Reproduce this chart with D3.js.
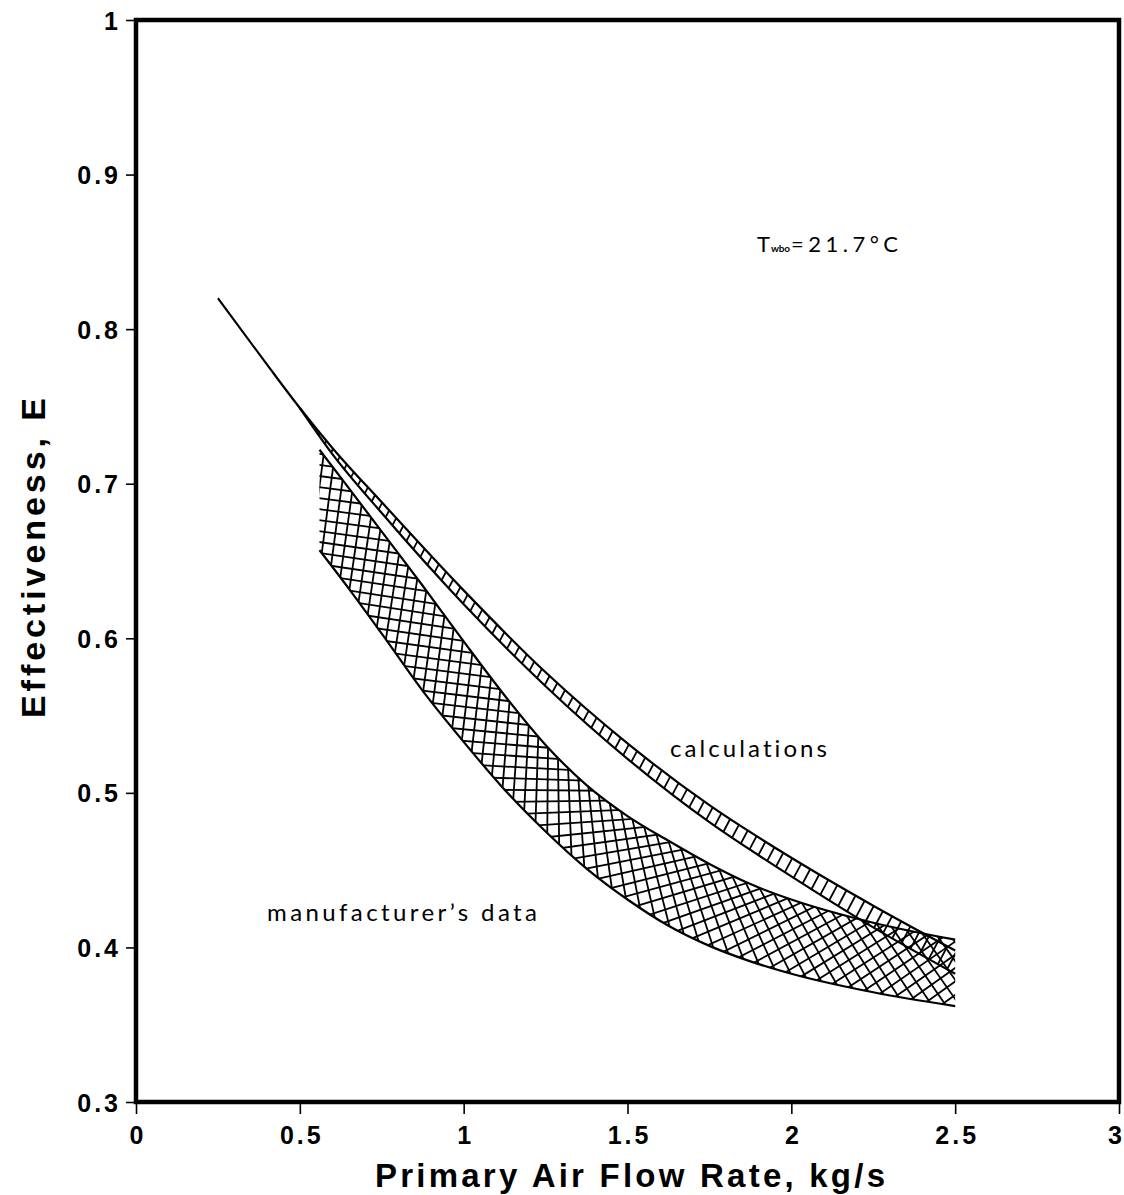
<!DOCTYPE html>
<html>
<head>
<meta charset="utf-8">
<script src="https://cdn.jsdelivr.net/npm/d3@7"></script>
<style>
  body { margin: 0; background: #fff; }
  svg { display: block; }
</style>
</head>
<body>
<div id="chart"></div>
<script>
// axis ticks
const xTicks = [0, 0.5, 1, 1.5, 2, 2.5, 3];
const yTicks = [0.3, 0.4, 0.5, 0.6, 0.7, 0.8, 0.9, 1];

// "calculations" band, [flow rate kg/s, effectiveness]
const calcUpper = [[0.25, 0.820], [0.40, 0.777], [0.50, 0.749], [0.60, 0.723], [0.75, 0.688], [1.0, 0.631],
                   [1.25, 0.578], [1.5, 0.532], [1.75, 0.492], [2.0, 0.458], [2.25, 0.427], [2.5, 0.398]];
const calcLower = [[0.50, 0.749], [0.60, 0.719], [0.75, 0.681], [1.0, 0.622], [1.25, 0.569], [1.5, 0.522],
                   [1.75, 0.481], [2.0, 0.446], [2.25, 0.413], [2.5, 0.383]];

// "manufacturer's data" band
const manuUpper = [[0.56, 0.722], [0.65, 0.697], [0.75, 0.669], [0.875, 0.634], [1.0, 0.598], [1.125, 0.563],
                   [1.25, 0.531], [1.375, 0.505], [1.5, 0.485], [1.625, 0.469], [1.75, 0.454], [1.875, 0.441],
                   [2.0, 0.431], [2.25, 0.416], [2.5, 0.405]];
const manuLower = [[0.56, 0.657], [0.65, 0.632], [0.75, 0.603], [0.875, 0.566], [1.0, 0.533], [1.125, 0.502],
                   [1.25, 0.475], [1.375, 0.451], [1.5, 0.431], [1.625, 0.414], [1.75, 0.401], [1.875, 0.391],
                   [2.0, 0.383], [2.25, 0.371], [2.5, 0.362]];

const W = 1124, H = 1195;
const plotBox = {left: 136, right: 1119, top: 20, bottom: 1102};

const x = d3.scaleLinear().domain([0, 3]).range([plotBox.left, plotBox.right]);
const y = d3.scaleLinear().domain([0.3, 1]).range([plotBox.bottom, plotBox.top]);

const svg = d3.select("#chart").append("svg")
    .attr("width", W)
    .attr("height", H);

svg.append("rect").attr("width", W).attr("height", H).attr("fill", "#fff");

const defs = svg.append("defs");
const plot = svg.append("g");
const hatchLayer = plot.append("g");
const lineLayer = plot.append("g");

const line = d3.line()
    .x(d => x(d[0]))
    .y(d => y(d[1]))
    .curve(d3.curveMonotoneX);

function drawCurve(data) {
    return lineLayer.append("path")
        .attr("d", line(data))
        .attr("fill", "none")
        .attr("stroke", "#000")
        .attr("stroke-width", 2.2)
        .attr("stroke-linejoin", "round")
        .node();
}

// sample a drawn path so we can ask for its pixel y at a pixel x
function sampler(node) {
    const len = node.getTotalLength();
    const pts = [];
    for (let l = 0; l <= len; l += 0.5) {
        const p = node.getPointAtLength(l);
        pts.push([p.x, p.y]);
    }
    const bis = d3.bisector(d => d[0]).left;
    return function(px) {
        const i = bis(pts, px);
        if (i <= 0) return pts[0][1];
        if (i >= pts.length) return pts[pts.length - 1][1];
        const a = pts[i - 1], b = pts[i];
        const t = (px - a[0]) / ((b[0] - a[0]) || 1);
        return a[1] + t * (b[1] - a[1]);
    };
}

// hatch lines that follow the band
function hatchBand(id, upFn, loFn, x0, x1, opts) {
    const xs = d3.range(x0, x1, 1);
    xs.push(x1);
    const up = xs.map(px => [px, upFn(px)]);
    const lo = xs.map(px => [px, loFn(px)]);
    const mid = xs.map((px, i) => [px, (up[i][1] + lo[i][1]) / 2, (lo[i][1] - up[i][1]) / 2]);

    defs.append("clipPath").attr("id", id)
        .append("path")
        .attr("d", "M" + up.concat(lo.slice().reverse()).map(p => p[0] + "," + p[1]).join("L") + "Z");

    const cum = [0];
    for (let i = 1; i < mid.length; i++) {
        cum.push(cum[i - 1] + Math.hypot(mid[i][0] - mid[i - 1][0], mid[i][1] - mid[i - 1][1]));
    }
    const total = cum[cum.length - 1];
    const tangentAt = i => {
        const a = mid[Math.max(0, i - 6)], b = mid[Math.min(mid.length - 1, i + 6)];
        return Math.atan2(b[1] - a[1], b[0] - a[0]);
    };

    const segs = [];
    for (let s = -opts.extend; s <= total + opts.extend; s += opts.step) {
        let i, px, py, h;
        if (s <= 0) i = 0;
        else if (s >= total) i = mid.length - 1;
        else i = d3.bisectLeft(cum, s);
        const th = tangentAt(i);
        if (s <= 0 || s >= total) {
            const base = mid[i];
            const ds = s <= 0 ? s : s - total;
            px = base[0] + Math.cos(th) * ds;
            py = base[1] + Math.sin(th) * ds;
            h = Math.max(base[2], opts.extendH || 0);
        } else {
            const a = mid[i - 1], b = mid[i];
            const t = (s - cum[i - 1]) / ((cum[i] - cum[i - 1]) || 1);
            px = a[0] + t * (b[0] - a[0]);
            py = a[1] + t * (b[1] - a[1]);
            h = a[2] + t * (b[2] - a[2]);
        }
        opts.angles.forEach(ang => {
            const dir = opts.fixed ? ang : th + ang;
            const L = Math.max(h, 4) * 2.2 + 12;
            segs.push({
                x1: px - Math.cos(dir) * L, y1: py - Math.sin(dir) * L,
                x2: px + Math.cos(dir) * L, y2: py + Math.sin(dir) * L
            });
        });
    }

    hatchLayer.append("g")
        .attr("clip-path", `url(#${id})`)
        .selectAll("line")
        .data(segs)
        .join("line")
        .attr("x1", d => d.x1).attr("y1", d => d.y1)
        .attr("x2", d => d.x2).attr("y2", d => d.y2)
        .attr("stroke", "#000")
        .attr("stroke-width", 1.8);
}

const calcUpNode = drawCurve(calcUpper);
const calcLoNode = drawCurve(calcLower);
const manuUpNode = drawCurve(manuUpper);
const manuLoNode = drawCurve(manuLower);

hatchBand("clipManu", sampler(manuUpNode), sampler(manuLoNode),
    x(manuUpper[0][0]), x(manuUpper[manuUpper.length - 1][0]),
    {angles: [Math.PI / 4, -Math.PI / 4], step: 15.5, extend: 80, extendH: 40});

hatchBand("clipCalc", sampler(calcUpNode), sampler(calcLoNode),
    x(calcLower[0][0]), x(calcLower[calcLower.length - 1][0]),
    {angles: [118 * Math.PI / 180], fixed: true, step: 10.5, extend: 20});

// frame
plot.append("rect")
    .attr("x", plotBox.left)
    .attr("y", plotBox.top)
    .attr("width", plotBox.right - plotBox.left)
    .attr("height", plotBox.bottom - plotBox.top)
    .attr("fill", "none")
    .attr("stroke", "#000")
    .attr("stroke-width", 4.5);

// axes
const fmt = d3.format("~g");
const tickFont = "'Liberation Sans', Arial, Helvetica, sans-serif";

const yAxis = svg.append("g")
    .attr("transform", `translate(${plotBox.left},0)`)
    .call(d3.axisLeft(y).tickValues(yTicks).tickFormat(fmt).tickSize(10).tickPadding(16));
const xAxis = svg.append("g")
    .attr("transform", `translate(0,${plotBox.bottom})`)
    .call(d3.axisBottom(x).tickValues(xTicks).tickFormat(fmt).tickSize(12).tickPadding(8));

[xAxis, yAxis].forEach(ax => {
    ax.select(".domain").remove();
    ax.selectAll(".tick line").attr("stroke", "#000").attr("stroke-width", 1.6);
    ax.selectAll(".tick text")
        .attr("fill", "#000")
        .style("font-family", tickFont)
        .style("font-weight", "bold")
        .style("font-size", "25px")
        .style("letter-spacing", "3px");
});
yAxis.selectAll(".tick text").attr("x", -15).attr("dy", "0.36em");
xAxis.selectAll(".tick text").attr("y", 42).attr("dy", null)
    .attr("dx", d => d === 3 ? -3 : 1.5);

// axis titles
svg.append("text")
    .attr("x", 630)
    .attr("y", 1187)
    .attr("text-anchor", "middle")
    .attr("textLength", 510)
    .attr("lengthAdjust", "spacing")
    .style("font-family", tickFont)
    .style("font-weight", "bold")
    .style("font-size", "33px")
    .text("Primary Air Flow Rate, kg/s");

svg.append("text")
    .attr("transform", "translate(45,558) rotate(-90)")
    .attr("text-anchor", "middle")
    .attr("textLength", 320)
    .attr("lengthAdjust", "spacing")
    .style("font-family", tickFont)
    .style("font-weight", "bold")
    .style("font-size", "34px")
    .text("Effectiveness, E");

// annotations
const noteFont = "Lato, 'Open Sans', sans-serif";
function note(tx, ty, str, len, size) {
    return svg.append("text")
        .attr("x", tx)
        .attr("y", ty)
        .attr("textLength", len)
        .attr("lengthAdjust", "spacing")
        .style("font-family", noteFont)
        .style("font-size", size + "px")
        .style("font-variant-ligatures", "none")
        .attr("fill", "#000")
        .text(str);
}
note(670, 757, "calculations", 157, 24);
note(267, 921, "manufacturer\u2019s data", 270, 24);
note(757, 252, "T", 13, 22);
note(771, 252, "wbo", 19, 10).style("font-weight", "bold");
note(791, 252, "=21.7\u00B0C", 107, 22);
</script>
</body>
</html>
